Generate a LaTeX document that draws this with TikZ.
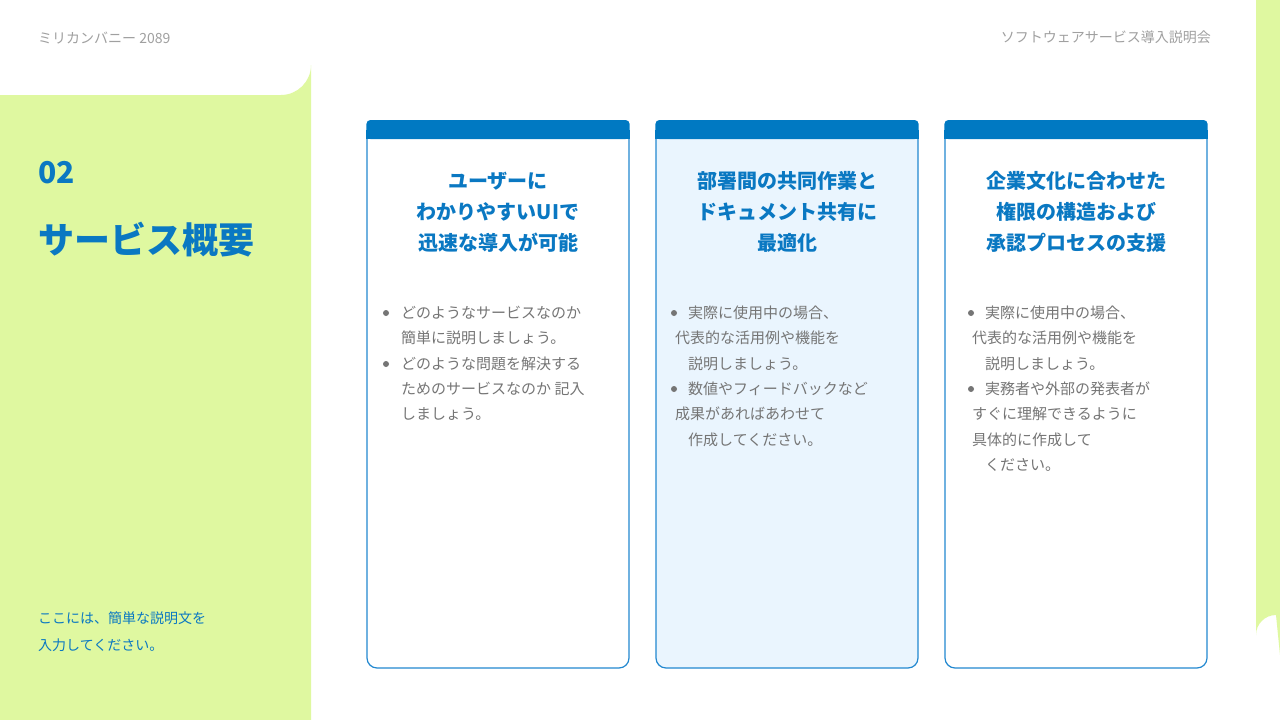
\documentclass[tikz,border=0pt]{standalone}
\usepackage{fontspec}
\setmainfont{Noto Sans CJK JP}
\newfontfamily\jpb{Noto Sans CJK JP Bold}
\definecolor{lime}{HTML}{DFF8A0}
\definecolor{hdr}{HTML}{0079C2}
\definecolor{bord}{HTML}{2288D0}
\definecolor{ttl}{HTML}{0A78C2}
\definecolor{grytxt}{HTML}{757575}
\definecolor{lightgry}{HTML}{A0A0A0}
\definecolor{card2}{HTML}{EAF5FE}
\tikzset{
 hd/.style={font=\fontsize{20}{31}\selectfont\bfseries, text=ttl, align=center},
 bd/.style={anchor=west, font=\fontsize{15}{18}\selectfont, text=grytxt, inner sep=0},
 dot/.style={circle, fill=grytxt, inner sep=0, minimum size=6pt},
}
\begin{document}
\begin{tikzpicture}[x=1pt,y=-1pt]
\useasboundingbox (0,0) rectangle (1280,720);
\fill[white] (0,0) rectangle (1280,720);
% green panels
\fill[lime] (0,95) -- (281,95) arc[start angle=90,end angle=0,radius=30] -- (311,720) -- (0,720) -- cycle;
\fill[lime] (1280,0) -- (1256,0) -- (1256,635) arc[start angle=180,end angle=270,radius=20] -- (1280,655) -- cycle;
% top texts
\node[anchor=west, font=\fontsize{14}{16}\selectfont, text=lightgry, inner sep=0] (brand) at (38,38) {ミリカンバニー 2089};
\node[anchor=east, font=\fontsize{14}{16}\selectfont, text=lightgry, inner sep=0] (event) at (1211,37) {ソフトウェアサービス導入説明会};
% left panel
\node[anchor=west, font=\fontsize{30}{34}\selectfont\bfseries, text=ttl, inner sep=0] (num) at (38,173) {02};
\node[anchor=west, font=\fontsize{36}{40}\selectfont\bfseries, text=ttl, inner sep=0] (title) at (38,240) {サービス概要};
\node[anchor=west, font=\fontsize{14}{16}\selectfont, text=ttl, inner sep=0] (desc1) at (38,618) {ここには、簡単な説明文を};
\node[anchor=west, font=\fontsize{14}{16}\selectfont, text=ttl, inner sep=0] (desc2) at (38,645) {入力してください。};
% cards
\foreach \x/\f in {367/white,656/card2,945/white}{
  \fill[\f, rounded corners=10] (\x,130) -- (\x,668) -- (\x+262,668) -- (\x+262,130) -- cycle;
  \draw[bord, line width=1.2pt, rounded corners=10] (\x,135) -- (\x,668) -- (\x+262,668) -- (\x+262,135);
  \fill[hdr, rounded corners=4] (\x-0.6,120) rectangle (\x+262.6,139);
  \fill[hdr] (\x-0.6,130) rectangle (\x+262.6,139);
}
\node[hd] (h1) at (498,212) {ユーザーに\\わかりやすいUIで\\迅速な導入が可能};
\node[hd] (h2) at (787,212) {部署間の共同作業と\\ドキュメント共有に\\最適化};
\node[hd] (h3) at (1076,212) {企業文化に合わせた\\権限の構造および\\承認プロセスの支援};
% card 1 body
\node[dot] (d11) at (386,313) {};
\node[bd] (a1) at (401,313) {どのようなサービスなのか};
\node[bd] (a2) at (401,338) {簡単に説明しましょう。};
\node[dot] (d12) at (386,364) {};
\node[bd] (a3) at (401,364) {どのような問題を解決する};
\node[bd] (a4) at (401,389) {ためのサービスなのか 記入};
\node[bd] (a5) at (401,414) {しましょう。};
% card 2 body
\node[dot] (d21) at (674,313) {};
\node[bd] (b1) at (688,313) {実際に使用中の場合、};
\node[bd] (b2) at (675,338) {代表的な活用例や機能を};
\node[bd] (b3) at (688,364) {説明しましょう。};
\node[dot] (d22) at (674,389) {};
\node[bd] (b4) at (688,389) {数値やフィードバックなど};
\node[bd] (b5) at (675,414) {成果があればあわせて};
\node[bd] (b6) at (688,440) {作成してください。};
% card 3 body
\node[dot] (d31) at (971,313) {};
\node[bd] (c1) at (985,313) {実際に使用中の場合、};
\node[bd] (c2) at (972,338) {代表的な活用例や機能を};
\node[bd] (c3) at (985,364) {説明しましょう。};
\node[dot] (d32) at (971,389) {};
\node[bd] (c4) at (985,389) {実務者や外部の発表者が};
\node[bd] (c5) at (972,414) {すぐに理解できるように};
\node[bd] (c6) at (972,440) {具体的に作成して};
\node[bd] (c7) at (985,465) {ください。};
\end{tikzpicture}
\end{document}
